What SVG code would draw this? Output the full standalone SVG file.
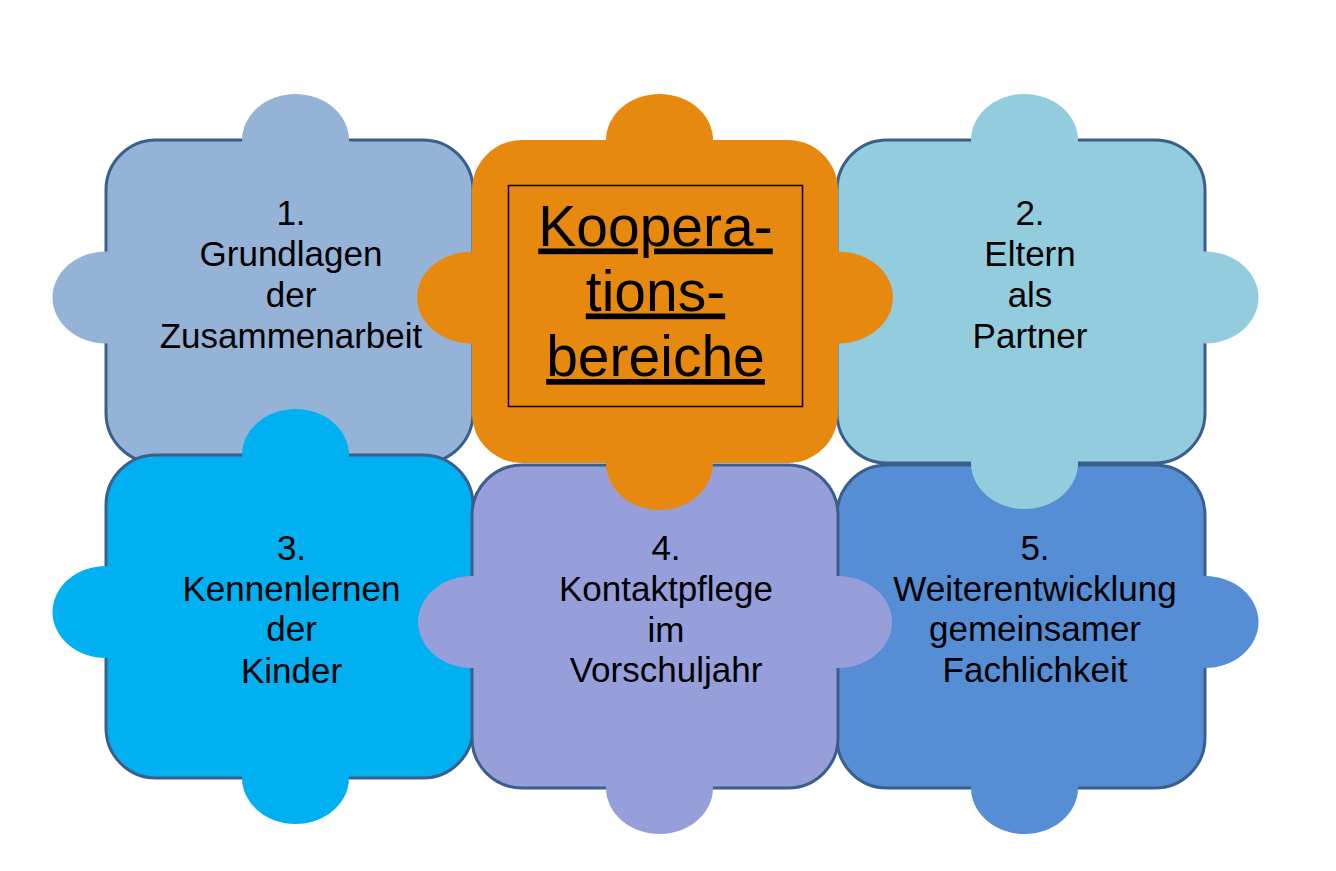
<svg xmlns="http://www.w3.org/2000/svg" width="1336" height="871" viewBox="0 0 1336 871">
<style>
.body{stroke:#3A5F8C;stroke-width:3}
.tab{stroke:none}
.lbl{font-family:"Liberation Sans",Arial,sans-serif;font-size:35px;fill:#000;text-anchor:middle}
.big{font-family:"Liberation Sans",Arial,sans-serif;font-size:57px;fill:#000;text-anchor:middle;text-decoration:underline}
.p1{fill:#95B3D7}.p2{fill:#93CDDD}.p3{fill:#00B0F0}.p4{fill:#979FDB}.p5{fill:#558ED5}.po{fill:#E8890F}
</style>
<rect width="1336" height="871" fill="#FFFFFF"/>
<g id="connectors"/>
<g id="piece1">
<rect class="body p1" x="106" y="140" width="367" height="323" rx="50" ry="50"/>
<ellipse class="tab p1" cx="295.5" cy="140" rx="53.5" ry="46"/>
<ellipse class="tab p1" cx="106" cy="297.5" rx="53.5" ry="46"/>
<text class="lbl" x="291" y="225">1.</text>
<text class="lbl" x="291" y="265.5">Grundlagen</text>
<text class="lbl" x="291" y="306.5">der</text>
<text class="lbl" x="291" y="347.5">Zusammenarbeit</text>
</g>
<g id="piece3">
<rect class="body p3" x="106" y="455" width="367" height="323" rx="50" ry="50"/>
<ellipse class="tab p3" cx="295.5" cy="455" rx="53.5" ry="46"/>
<ellipse class="tab p3" cx="106" cy="612" rx="53.5" ry="46"/>
<ellipse class="tab p3" cx="295.5" cy="778" rx="53.5" ry="46"/>
<text class="lbl" x="291.5" y="559.5">3.</text>
<text class="lbl" x="291.5" y="600.5">Kennenlernen</text>
<text class="lbl" x="291.5" y="641">der</text>
<text class="lbl" x="291.5" y="682.5">Kinder</text>
</g>
<g id="piece5">
<rect class="body p5" x="837" y="465" width="368" height="323" rx="50" ry="50"/>
<ellipse class="tab p5" cx="1205" cy="622" rx="53.5" ry="46"/>
<ellipse class="tab p5" cx="1024.5" cy="788" rx="53.5" ry="46"/>
<text class="lbl" x="1035" y="559.5">5.</text>
<text class="lbl" x="1035" y="601">Weiterentwicklung</text>
<text class="lbl" x="1035" y="641">gemeinsamer</text>
<text class="lbl" x="1035" y="682">Fachlichkeit</text>
</g>
<g id="piece4">
<rect class="body p4" x="472" y="465" width="366" height="323" rx="50" ry="50"/>
<ellipse class="tab p4" cx="472" cy="622" rx="54" ry="46"/>
<ellipse class="tab p4" cx="838" cy="622" rx="54" ry="46"/>
<ellipse class="tab p4" cx="659.5" cy="788" rx="53.5" ry="46"/>
<text class="lbl" x="666" y="559.5">4.</text>
<text class="lbl" x="666" y="601">Kontaktpflege</text>
<text class="lbl" x="666" y="641.5">im</text>
<text class="lbl" x="666" y="682">Vorschuljahr</text>
</g>
<g id="piece2">
<rect class="body p2" x="837" y="140" width="368" height="323" rx="50" ry="50"/>
<ellipse class="tab p2" cx="1024.5" cy="140" rx="53.5" ry="46"/>
<ellipse class="tab p2" cx="1205" cy="297.5" rx="53.5" ry="46"/>
<ellipse class="tab p2" cx="1024.5" cy="463" rx="53.5" ry="46"/>
<text class="lbl" x="1030" y="225">2.</text>
<text class="lbl" x="1030" y="265.5">Eltern</text>
<text class="lbl" x="1030" y="306.5">als</text>
<text class="lbl" x="1030" y="347.5">Partner</text>
</g>
<g id="center">
<rect class="po" x="472" y="140" width="366" height="323" rx="50" ry="50"/>
<ellipse class="tab po" cx="659.5" cy="140" rx="53.5" ry="46"/>
<ellipse class="tab po" cx="472" cy="297.5" rx="55" ry="46"/>
<ellipse class="tab po" cx="838" cy="297.5" rx="55" ry="46"/>
<ellipse class="tab po" cx="659.5" cy="463" rx="53.5" ry="47"/>
<rect x="508.5" y="185.5" width="294" height="221" fill="none" stroke="#000" stroke-width="1.5"/>
<text class="big" x="655.5" y="245.5">Koopera-</text>
<text class="big" x="655.5" y="310.5">tions-</text>
<text class="big" x="655.5" y="376">bereiche</text>
</g>
</svg>
